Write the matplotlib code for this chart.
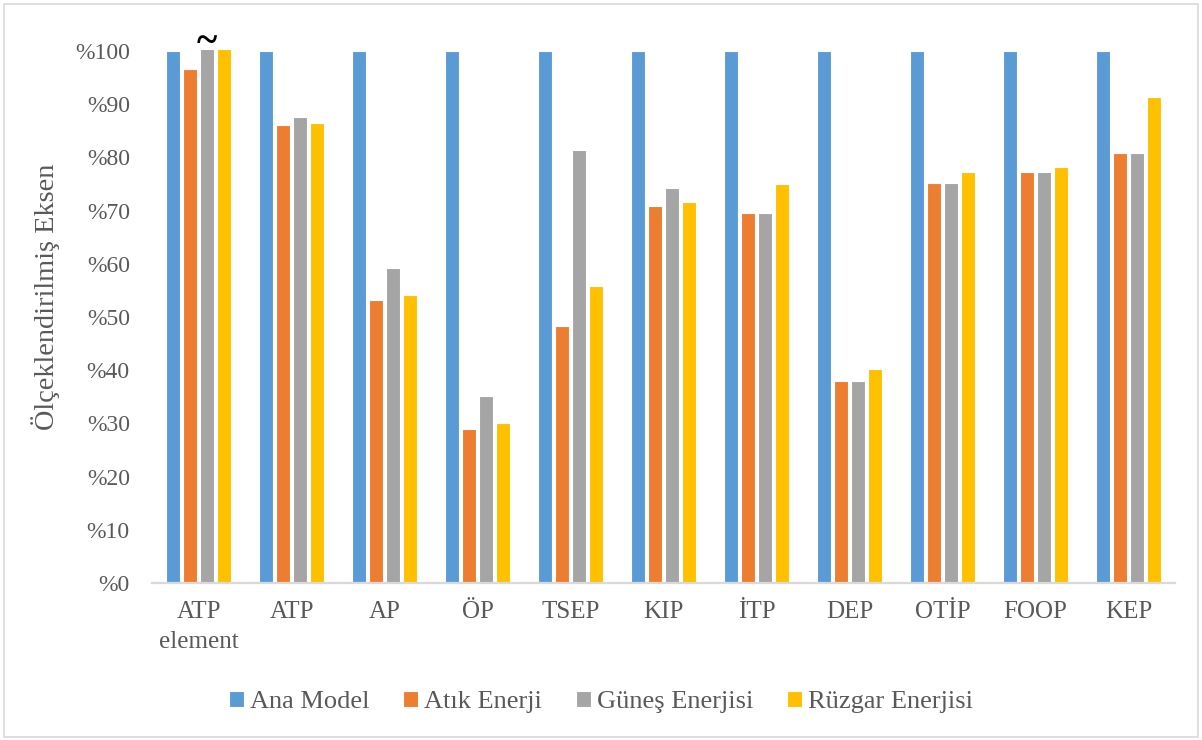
import numpy as np
import matplotlib
matplotlib.use("Agg")
import matplotlib.pyplot as plt
from matplotlib.patches import Rectangle

plt.rcParams["font.family"] = ["Liberation Serif", "DejaVu Serif"]

categories = ["ATP\nelement", "ATP", "AP", "ÖP", "TSEP", "KIP", "İTP", "DEP", "OTİP", "FOOP", "KEP"]
ana_model = [100, 100, 100, 100, 100, 100, 100, 100, 100, 100, 100]
atik_enerji = [96.6, 86.1, 53.2, 28.9, 48.3, 70.9, 69.5, 38.0, 75.2, 77.2, 80.8]
gunes_enerjisi = [100.3, 87.6, 59.2, 35.2, 81.4, 74.2, 69.5, 38.0, 75.2, 77.2, 80.8]
ruzgar_enerjisi = [100.3, 86.5, 54.1, 30.1, 55.8, 71.6, 75.0, 40.2, 77.3, 78.1, 91.4]

series = [("Ana Model", ana_model, "#5B9BD5"),
          ("Atık Enerji", atik_enerji, "#ED7D31"),
          ("Güneş Enerjisi", gunes_enerjisi, "#A5A5A5"),
          ("Rüzgar Enerjisi", ruzgar_enerjisi, "#FFC000")]

fig = plt.figure(figsize=(12.02, 7.40), dpi=100)
ax = fig.add_axes([0.1265, 0.2122, 0.851, 0.7189])

x = np.arange(len(categories))
pitch = 0.183
width = 0.155
for i, (name, vals, color) in enumerate(series):
    ax.bar(x + (i - 1.5) * pitch, vals, width, color=color, edgecolor="white",
           linewidth=0.8, label=name, clip_on=False, zorder=2)

# approximate-value marker over the first group
ax.text(0 + 0.5 * pitch, 101.6, "~", ha="center", va="center", fontsize=28,
        fontweight="bold", color="black")

ax.set_xlim(-0.5, len(categories) - 0.5)
ax.set_ylim(0, 100)
ax.set_yticks(np.arange(0, 101, 10))
ax.set_yticklabels(["%" + str(v) for v in range(0, 101, 10)])
ax.set_xticks(x)
ax.set_xticklabels(categories, linespacing=1.45)
ax.tick_params(axis="both", length=0, colors="#595959")
ax.tick_params(axis="y", pad=16, labelsize=17)
ax.tick_params(axis="x", pad=13, labelsize=18)

for s in ["top", "right", "left"]:
    ax.spines[s].set_visible(False)
ax.spines["bottom"].set_color("#d9d9d9")
ax.spines["bottom"].set_linewidth(1.6)
ax.spines["bottom"].set_zorder(3)

ax.set_ylabel("Ölçeklendirilmiş Eksen", fontsize=20.4, color="#595959")
ax.yaxis.set_label_coords(-0.09, 0.537)

fig.legend(loc="center", bbox_to_anchor=(0.5, 0.051), ncol=4, frameon=False,
           fontsize=19, handlelength=0.55, handleheight=0.55, handletextpad=0.23,
           columnspacing=1.3, labelcolor="#595959")

fig.patches.append(Rectangle((0.003, 0.004), 0.994, 0.99, transform=fig.transFigure,
                             fill=False, edgecolor="#d9d9d9", linewidth=1.2))

fig.savefig("out.png", dpi=100)
